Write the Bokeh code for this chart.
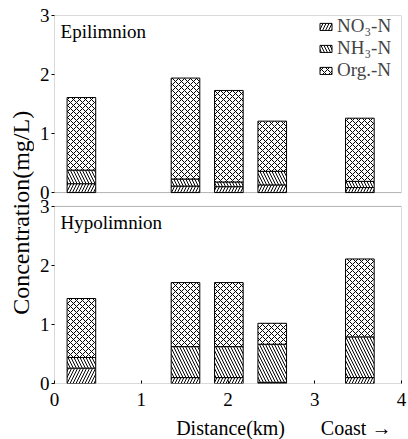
import math
from bokeh.plotting import figure
from bokeh.layouts import row, column
from bokeh.models import ColumnDataSource, Label, Range1d, FixedTicker, BoxAnnotation
from bokeh.embed import file_html
from bokeh.resources import INLINE

# ---- data ----
distance = [0.31, 1.51, 2.01, 2.51, 3.52]          # km
epi_no3 = [0.15, 0.11, 0.10, 0.13, 0.085]
epi_nh3 = [0.23, 0.12, 0.08, 0.23, 0.105]
epi_org = [1.23, 1.71, 1.55, 0.85, 1.07]
hypo_no3 = [0.26, 0.10, 0.10, 0.02, 0.10]
hypo_nh3 = [0.18, 0.525, 0.525, 0.645, 0.69]
hypo_org = [1.00, 1.085, 1.085, 0.355, 1.32]
species = ["NO₃-N", "NH₃-N", "Org.-N"]
x_ticks = [0, 1, 2, 3, 4]
y_ticks = [0, 1, 2, 3]

FONT = "Liberation Serif"
GAP = 0.235          # vertical gap between the two panels (in y units)
YMAX = 3

main = figure(width=374, height=414, x_range=Range1d(0, 4),
              y_range=Range1d(0, 2 * YMAX + GAP),
              extra_y_ranges={"top": Range1d(-(YMAX + GAP), YMAX)},
              output_backend="svg", toolbar_location=None,
              min_border_left=20, min_border_right=7,
              min_border_top=15, min_border_bottom=31)
main.grid.visible = False
main.outline_line_color = None
main.background_fill_color = "white"
main.border_fill_color = "white"

hatches = ["/", "\\", "x"]
stack_kw = dict(x="x", width=0.33, fill_color="white", line_color="black", line_width=1,
                hatch_pattern=hatches, hatch_color="black", hatch_scale=6, hatch_weight=1)

src_top = ColumnDataSource(dict(x=distance, no3=epi_no3, nh3=epi_nh3, org=epi_org))
src_bot = ColumnDataSource(dict(x=distance, no3=hypo_no3, nh3=hypo_nh3, org=hypo_org))

main.vbar_stack(["no3", "nh3", "org"], source=src_top, y_range_name="top",
                legend_label=species, **stack_kw)
main.vbar_stack(["no3", "nh3", "org"], source=src_bot, **stack_kw)

# panel frames
main.add_layout(BoxAnnotation(left=0, right=4, bottom=0, top=YMAX, fill_color=None,
                              line_color="black", line_width=1))
main.add_layout(BoxAnnotation(left=0, right=4, bottom=0, top=YMAX, y_range_name="top",
                              fill_color=None, line_color="black", line_width=1))

# y axis: ticks for both panels
top_ticks = [YMAX + GAP + t for t in y_ticks]
main.yaxis.ticker = FixedTicker(ticks=y_ticks + top_ticks)
main.yaxis.major_label_overrides = {tv: str(t) for tv, t in zip(top_ticks, y_ticks)}
main.yaxis.axis_line_color = None
main.yaxis.minor_tick_line_color = None
main.yaxis.major_tick_out = 3
main.yaxis.major_tick_in = 0
main.yaxis.major_label_standoff = 2
main.yaxis.major_label_text_font = FONT
main.yaxis.major_label_text_font_size = "19px"
main.yaxis.major_label_text_color = "black"

main.xaxis.ticker = FixedTicker(ticks=x_ticks)
main.xaxis.axis_line_color = None
main.xaxis.minor_tick_line_color = None
main.xaxis.major_tick_out = 0
main.xaxis.major_tick_in = 3
main.xaxis.major_label_standoff = 9
main.xaxis.major_label_text_font = FONT
main.xaxis.major_label_text_font_size = "19px"
main.xaxis.major_label_text_color = "black"

main.add_layout(Label(x=0.07, y=2.55, y_range_name="top", text="Epilimnion",
                      text_font=FONT, text_font_size="19px", text_color="black"))
main.add_layout(Label(x=0.07, y=2.55, text="Hypolimnion",
                      text_font=FONT, text_font_size="19px", text_color="black"))

lg = main.legend[0]
lg.location = "top_right"
lg.label_text_font = FONT
lg.label_text_font_size = "19px"
lg.glyph_width = 15
lg.glyph_height = 9
lg.spacing = 0
lg.padding = 0
lg.margin = 0
lg.label_standoff = 4
lg.label_height = 19
lg.label_width = 64
lg.border_line_color = None
lg.background_fill_alpha = 0

# y-axis title (shared by both panels)
ylab = figure(width=34, height=414, x_range=Range1d(0, 34), y_range=Range1d(0, 414),
              output_backend="svg", toolbar_location=None,
              min_border_left=0, min_border_right=0, min_border_top=0, min_border_bottom=0)
ylab.axis.visible = False
ylab.grid.visible = False
ylab.outline_line_color = None
ylab.add_layout(Label(x=20, y=192, text="Concentration(mg/L)", angle=math.pi / 2,
                      text_align="center", text_baseline="middle", text_font=FONT,
                      text_font_size="24px", text_color="black"))

# x-axis title row
xlab = figure(width=408, height=25, x_range=Range1d(0, 4), y_range=Range1d(0, 1),
              output_backend="svg", toolbar_location=None,
              min_border_left=54, min_border_right=7, min_border_top=0, min_border_bottom=0)
xlab.axis.visible = False
xlab.grid.visible = False
xlab.outline_line_color = None
xlab.add_layout(Label(x=2.03, y=0.45, text="Distance(km)", text_align="center",
                      text_baseline="middle", text_font=FONT, text_font_size="20px",
                      text_color="black"))
xlab.add_layout(Label(x=3.07, y=0.45, text="Coast →", text_align="left",
                      text_baseline="middle", text_font=FONT, text_font_size="20px",
                      text_color="black"))

layout = column(row(ylab, main), xlab)

open("out.html", "w").write(file_html(layout, INLINE))
